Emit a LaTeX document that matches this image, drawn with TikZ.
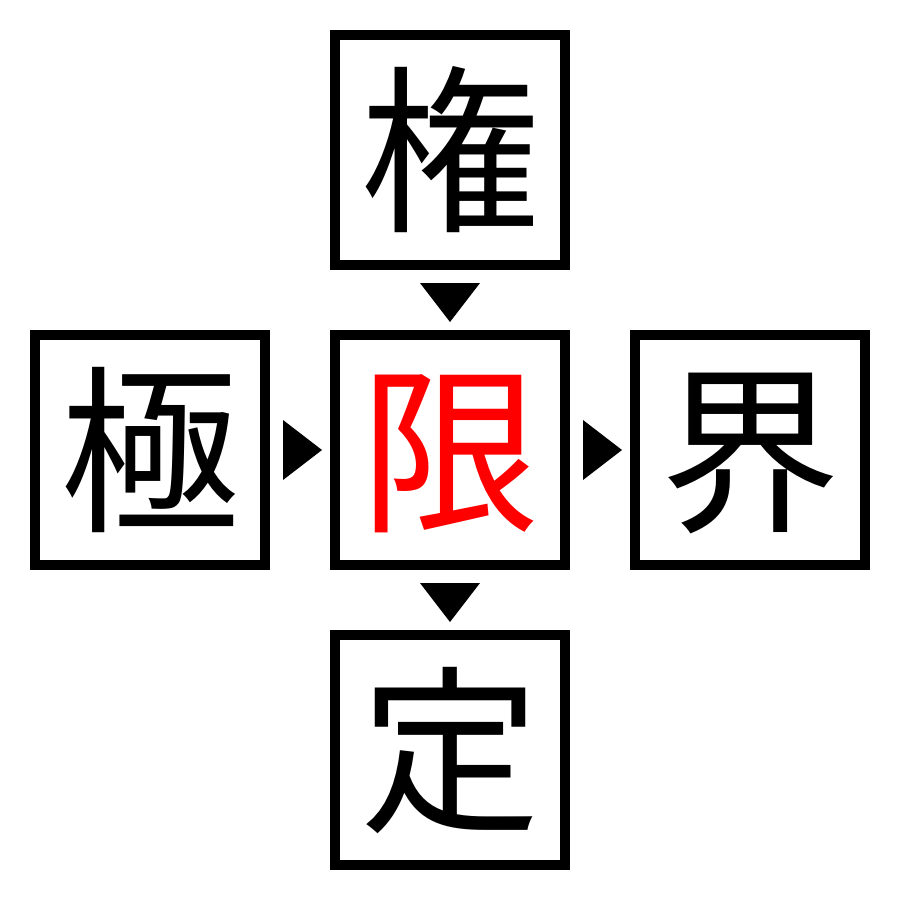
\documentclass[tikz,border=0pt]{standalone}
\usepackage{fontspec}
\newfontfamily\cjk{Noto Sans CJK JP}
\begin{document}
\begin{tikzpicture}[x=1pt,y=-1pt,
  kbox/.style={draw=black,line width=10pt,minimum width=230pt,minimum height=230pt,inner sep=0pt,font=\cjk\fontsize{180}{180}\selectfont,text height=158pt,text depth=22pt},
  tri/.style={fill=black,draw=none}]
\useasboundingbox (0,0) rectangle (900,900);
\node[kbox] (top) at (450,150) {権};
\node[kbox,text=red] (mid) at (450,450) {限};
\node[kbox] (left) at (150,450) {極};
\node[kbox] (right) at (750,450) {界};
\node[kbox] (bot) at (450,750) {定};
\fill[tri] (420,283) -- (480,283) -- (450,322) -- cycle;
\fill[tri] (283,420) -- (283,480) -- (322,450) -- cycle;
\fill[tri] (583,420) -- (583,480) -- (622,450) -- cycle;
\fill[tri] (420,583) -- (480,583) -- (450,622) -- cycle;
\end{tikzpicture}
\end{document}
